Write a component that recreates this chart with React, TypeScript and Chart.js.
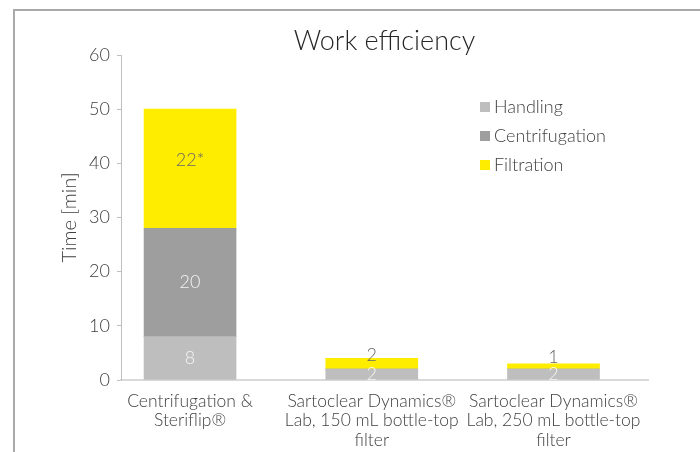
import React, { useEffect, useRef } from "react";
import { Chart, registerables } from "chart.js";

Chart.register(...registerables);

// ---- data ----
const categories: string[][] = [
  ["Centrifugation &", "Steriflip®"],
  ["Sartoclear Dynamics®", "Lab, 150 mL bottle-top", "filter"],
  ["Sartoclear Dynamics®", "Lab, 250 mL bottle-top", "filter"],
];
const seriesNames = ["Handling", "Centrifugation", "Filtration"];
const handling = [8, 2, 2];
const centrifugation = [20, 0, 0];
const filtration = [22, 2, 1];
const handlingLabels = ["8", "2", "2"];
const centrifugationLabels = ["20", "", ""];
const filtrationLabels = ["22*", "2", "1"];
const yMin = 0;
const yMax = 60;
const yStep = 10;
const chartTitle = "Work efficiency";
const yTitle = "Time [min]";

// ---- styles ----
const FONT = "Lato, 'Open Sans', 'Noto Sans', sans-serif";
const colors = ["#bebebe", "#9e9e9e", "#ffed00"];
const labelColors = ["#f4f4f4", "#f4f4f4", "#666666"];
const labelShift = [0, 0, -9];
const TEXT = "#404040";

const segLabelPlugin = {
  id: "segLabels",
  afterDatasetsDraw(chart: any) {
    const ctx = chart.ctx;
    chart.data.datasets.forEach((ds: any, di: number) => {
      const meta = chart.getDatasetMeta(di);
      meta.data.forEach((el: any, i: number) => {
        const t = ds.segLabels[i];
        if (!t) return;
        const { x, y, base } = el.getProps(["x", "y", "base"], true);
        ctx.save();
        ctx.font = `300 18px ${FONT}`;
        ctx.fillStyle = ds.labelColor;
        ctx.textAlign = "center";
        ctx.textBaseline = "middle";
        ctx.fillText(t, x, (y + base) / 2 + ds.labelShift);
        ctx.restore();
      });
    });
  },
};

const legendPlugin = {
  id: "insideLegend",
  afterDraw(chart: any) {
    const ctx = chart.ctx;
    const x0 = 480;
    const y0 = 107;
    const gap = 29;
    chart.data.datasets.forEach((ds: any, i: number) => {
      const cy = y0 + i * gap;
      ctx.save();
      ctx.fillStyle = ds.backgroundColor;
      ctx.fillRect(x0, cy - 5, 10, 10);
      ctx.font = `300 18px ${FONT}`;
      ctx.fillStyle = TEXT;
      ctx.textAlign = "left";
      ctx.textBaseline = "middle";
      ctx.fillText(ds.label, x0 + 14, cy);
      ctx.restore();
    });
  },
};

export default function App() {
  const ref = useRef<HTMLCanvasElement | null>(null);

  useEffect(() => {
    if (!ref.current) return;
    const series = [handling, centrifugation, filtration];
    const segs = [handlingLabels, centrifugationLabels, filtrationLabels];
    const chart = new Chart(ref.current, {
      type: "bar",
      data: {
        datasets: series.map((vals, si) => ({
          label: seriesNames[si],
          data: vals.map((v, i) => ({ x: i, y: v })),
          backgroundColor: colors[si],
          borderWidth: 0,
          barThickness: 92,
          segLabels: segs[si],
          labelColor: labelColors[si],
          labelShift: labelShift[si],
        })) as any,
      },
      options: {
        animation: false,
        responsive: false,
        maintainAspectRatio: false,
        layout: { padding: { left: 0, right: 52, top: 0, bottom: 0 } },
        plugins: {
          legend: { display: false },
          tooltip: { enabled: false },
          title: {
            display: true,
            text: chartTitle,
            fullSize: false,
            color: "#262626",
            font: { family: FONT, size: 27, weight: "300", lineHeight: 1 },
            padding: { top: 28, bottom: 0 },
          },
        },
        scales: {
          x: {
            type: "linear",
            stacked: true,
            offset: false,
            min: -0.38,
            max: 2.52,
            grid: { display: false, offset: false },
            border: { display: true, color: "#d9d9d9", width: 2 },
            afterBuildTicks: (scale: any) => {
              scale.ticks = categories.map((_, i) => ({ value: i }));
            },
            afterFit: (scale: any) => {
              scale.height = 72;
            },
            ticks: {
              autoSkip: false,
              maxRotation: 0,
              minRotation: 0,
              padding: 3,
              color: TEXT,
              font: { family: FONT, size: 17.5, weight: "300", lineHeight: 1.13 },
              callback: (value: any) => categories[value as number] ?? "",
            },
          },
          y: {
            type: "linear",
            stacked: true,
            min: yMin,
            max: yMax,
            grid: {
              display: true,
              drawOnChartArea: false,
              drawTicks: true,
              tickLength: 4,
              color: "#bfbfbf",
            },
            border: { display: true, color: "#bfbfbf", width: 1 },
            afterFit: (scale: any) => {
              scale.width = 121;
            },
            ticks: {
              stepSize: yStep,
              padding: 7,
              color: TEXT,
              font: { family: FONT, size: 18, weight: "300" },
            },
            title: {
              display: true,
              text: yTitle,
              color: TEXT,
              font: { family: FONT, size: 20, weight: "300" },
              padding: { top: 58, bottom: 0 },
            },
          },
        },
      },
      plugins: [segLabelPlugin, legendPlugin],
    });
    return () => chart.destroy();
  }, []);

  return (
    <div
      style={{
        position: "absolute",
        left: 0,
        top: 0,
        width: 700,
        height: 452,
        background: "#ffffff",
        overflow: "hidden",
      }}
    >
      <div
        style={{
          position: "absolute",
          left: 13,
          top: 9,
          right: -10,
          bottom: -10,
          borderTop: "2px solid #a9a9a9",
          borderLeft: "2px solid #a9a9a9",
        }}
      />
      <canvas
        ref={ref}
        width={700}
        height={452}
        style={{ position: "absolute", left: 0, top: 0, display: "block" }}
      />
    </div>
  );
}
